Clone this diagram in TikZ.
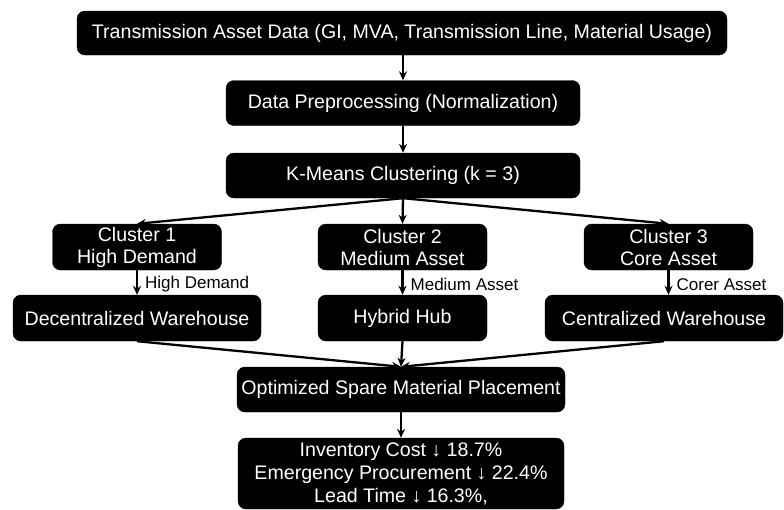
\documentclass[tikz,border=0pt]{standalone}
\usepackage{fontspec}
\setmainfont{Liberation Sans}
\usetikzlibrary{arrows.meta}
\tikzset{
  box/.style={fill=black, draw=black, rounded corners=8pt, text=white, align=center,
    font=\fontsize{19.6}{22}\selectfont, inner sep=0pt},
  conn/.style={line width=2.3pt, -{Stealth[length=9pt,width=8pt]}},
  elabel/.style={font=\fontsize{17}{19}\selectfont, inner sep=0pt, anchor=west, xshift=7pt}
}
\begin{document}
\begin{tikzpicture}[x=1pt,y=-1pt]
\useasboundingbox (0,0) rectangle (784,509);
\node[box, minimum width=650pt, minimum height=44pt] (n1) at (402,33) {Transmission Asset Data (GI, MVA, Transmission Line, Material Usage)};
\node[box, minimum width=354pt, minimum height=45pt] (n2) at (403,103) {Data Preprocessing (Normalization)};
\node[box, minimum width=354pt, minimum height=45pt] (n3) at (403,175.5) {K-Means Clustering (k = 3)};
\node[box, minimum width=169pt, minimum height=46pt] (c1) at (137,247) {Cluster 1\\High Demand};
\node[box, minimum width=169pt, minimum height=46pt] (c2) at (402.5,247) {Cluster 2\\Medium Asset};
\node[box, minimum width=169pt, minimum height=46pt] (c3) at (668.5,247) {Cluster 3\\Core Asset};
\node[box, minimum width=248pt, minimum height=46pt] (w1) at (137,318) {Decentralized Warehouse};
\node[box, minimum width=169pt, minimum height=46pt] (w2) at (402.5,318) {Hybrid Hub};
\node[box, minimum width=238pt, minimum height=46pt] (w3) at (664,318) {Centralized Warehouse};
\node[box, minimum width=328pt, minimum height=45pt] (opt) at (401,389.5) {Optimized Spare Material Placement};
\node[box, minimum width=326pt, minimum height=71pt, font=\fontsize{19.6}{23}\selectfont] (res) at (401,473.5) {Inventory Cost ↓ 18.7\%\\Emergency Procurement ↓ 22.4\%\\Lead Time ↓ 16.3\%,};
\draw[conn] (n1.south -| n2.north) -- (n2.north);
\draw[conn] (n2) -- (n3);
\draw[conn] (n3.south) -- (c1.north);
\draw[conn] (n3.south) -- (c2.north);
\draw[conn] (n3.south) -- (c3.north);
\draw[conn] (c1.south) -- node[elabel, pos=0.58] (l1) {High Demand} (w1.north -| c1.south);
\draw[conn] (c2.south) -- node[elabel, pos=0.58] (l2) {Medium Asset} (w2.north -| c2.south);
\draw[conn] (c3.south) -- node[elabel, pos=0.58] (l3) {Corer Asset} (w3.north -| c3.south);
\draw[conn] (w1.south) -- (opt.north);
\draw[conn] (w2.south) -- (opt.north);
\draw[conn] (w3.south) -- (opt.north);
\draw[conn] (opt) -- (res);
\end{tikzpicture}
\end{document}
